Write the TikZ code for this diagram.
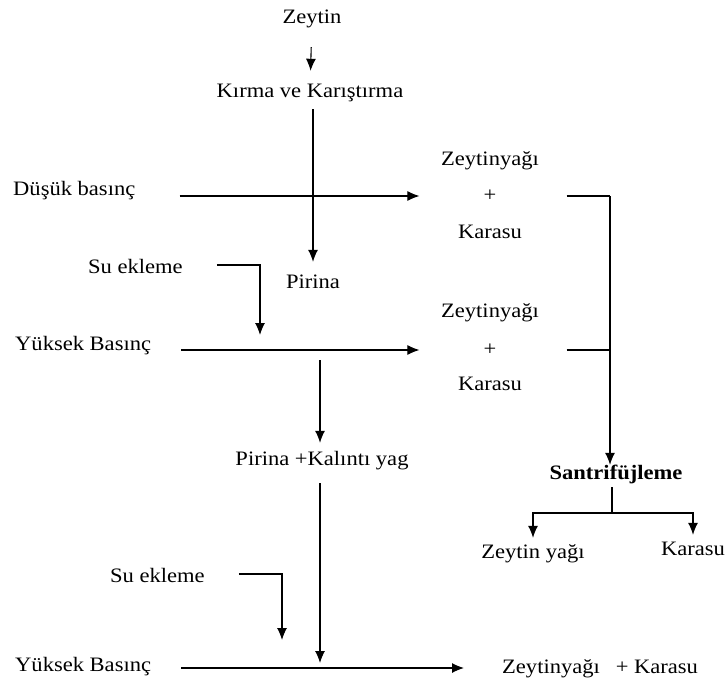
\documentclass[tikz,border=0pt]{standalone}
\usepackage{fontspec}
\setmainfont{Liberation Serif}[FakeStretch=1.1]
\usetikzlibrary{arrows.meta}
\begin{document}
\begin{tikzpicture}[x=1pt,y=-1pt,
    font=\fontsize{20.5}{24}\selectfont,
    every node/.style={inner sep=0pt,text height=14pt,text depth=4pt},
    flow/.style={-{Latex[length=12pt,width=10pt]},line width=1.1pt},
    link/.style={line width=1.1pt}]
  \useasboundingbox (0,0) rectangle (726,683);
  % texts
  \draw
    (312,18) node (zeytin){Zeytin}
    (310,92) node (kirma){Kırma ve Karıştırma}
    (13,190) node[anchor=west] (dusuk){Düşük basınç}
    (490,160) node (zy1){Zeytinyağı}
    (490,196) node (plus1){+}
    (490,233) node (ks1){Karasu}
    (88,268) node[anchor=west] (su1){Su ekleme}
    (313,283) node (pirina){Pirina}
    (15,345) node[anchor=west] (yuksek1){Yüksek Basınç}
    (490,312) node (zy2){Zeytinyağı}
    (490,350) node (plus2){+}
    (490,385) node (ks2){Karasu}
    (322,460) node (kalinti){Pirina +Kalıntı yag}
    (616,474) node[font=\fontsize{20.5}{24}\selectfont\bfseries] (santri){Santrifüjleme}
    (533,553) node (zyag){Zeytin yağı}
    (693,550) node (ks3){Karasu}
    (110,577) node[anchor=west] (su2){Su ekleme}
    (15,666) node[anchor=west] (yuksek2){Yüksek Basınç}
    (502,668) node[anchor=west] (sonuc){Zeytinyağı\enspace\ + Karasu};
  % junctions
  \coordinate (r1) at (610,196);
  \coordinate (r2) at (610,350);
  \coordinate (s1) at (260,265);
  \coordinate (s2) at (282,574);
  \coordinate (m1) at (320,360);
  \coordinate (m2) at (320,668);
  \coordinate (t1) at (612,513);
  \begin{scope}
    \draw[flow,shorten <=20pt,shorten >=12pt] (zeytin) -- (kirma);
    \draw[flow,shorten <=8pt,shorten >=12pt] (kirma.south -| pirina) -- (pirina);
    \draw[flow,shorten <=44pt,shorten >=64pt] (dusuk.east |- plus1) -- (plus1);
    \draw[link,shorten <=70pt] (plus1) -- (r1);
    \draw[flow] (r1) -- (r1 |- santri.north);
    \draw[flow,shorten <=34pt] (su1.east |- s1) -- (s1) -- ++(0,70);
    \draw[flow,shorten <=30pt,shorten >=64pt] (yuksek1.east |- plus2) -- (plus2);
    \draw[link,shorten <=70pt] (plus2) -- (r2);
    \draw[flow,shorten >=8pt] (m1) -- (m1 |- kalinti.north);
    \draw[link,shorten <=4pt] (santri.south -| t1) -- (t1);
    \draw[flow,shorten >=6pt] (t1) -| (zyag);
    \draw[flow,shorten >=6pt] (t1) -| (ks3);
    \draw[flow,shorten <=14pt,shorten >=5pt] (kalinti.south -| m2) -- (m2);
    \draw[flow,shorten <=34pt] (su2.east |- s2) -- (s2) -- ++(0,66);
    \draw[flow,shorten <=30pt,shorten >=38pt] (yuksek2.east |- sonuc) -- (sonuc);
  \end{scope}
\end{tikzpicture}
\end{document}
